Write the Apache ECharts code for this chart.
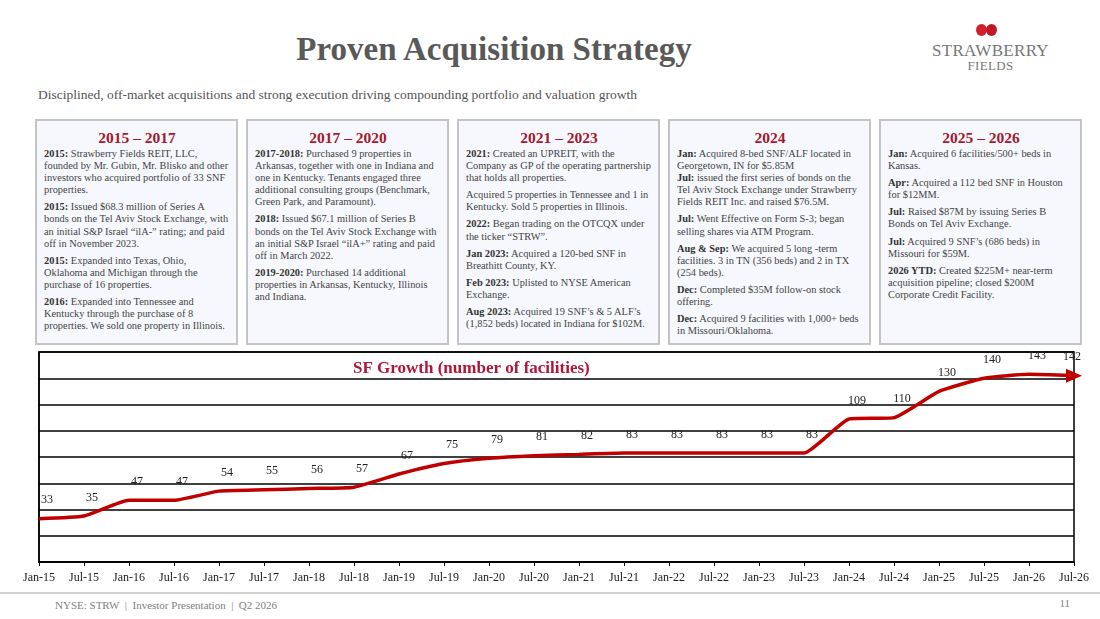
<!DOCTYPE html>
<html><head><meta charset="utf-8">
<script src="https://cdn.jsdelivr.net/npm/echarts@6/dist/echarts.min.js"></script>
<style>
body{margin:0;width:1100px;height:619px;background:#fff;font-family:"Liberation Serif","Times New Roman",serif;position:relative;overflow:hidden}
.title{position:absolute;left:0;width:988px;top:31px;text-align:center;font-size:33px;font-weight:bold;color:#595959}
.sub{position:absolute;left:38px;top:87px;font-size:13.5px;color:#555}
.box{position:absolute;top:119px;height:226px;width:203px;border:2px solid #c4c4c4;background:#f7f8fd;box-sizing:border-box;padding:4px 6px 0 7px;font-size:10.4px;line-height:12.1px;color:#444;overflow:hidden}
.box h3{margin:4px 0 1px;text-align:center;font-size:15.5px;line-height:18px;color:#a3192e;font-weight:bold}
.box p{margin:0 0 5px}
.box b{color:#333}
#chart{position:absolute;left:0;top:349px;width:1100px;height:242px}
.foot{position:absolute;left:55px;top:599px;font-size:11px;color:#7f7f7f}
.pg{position:absolute;right:30px;top:597px;font-size:11px;color:#7f7f7f}
.fline{position:absolute;left:0;width:1100px;top:592px;height:2px;background:#d0d0d0}
.logo{position:absolute;left:928px;top:36px;width:125px;text-align:center;color:#777;font-size:17px;line-height:14px;letter-spacing:0.3px}
</style></head><body>
<div class="title">Proven Acquisition Strategy</div>
<div class="logo"><div style="height:8px;position:relative"><span style="position:absolute;left:48px;top:-12px;width:11px;height:12px;border-radius:50%;background:#d0202e"></span><span style="position:absolute;left:58px;top:-12px;width:11px;height:12px;border-radius:50%;background:#c01825"></span></div>STRAWBERRY<br><span style="font-size:13px">FIELDS</span></div>
<div class="sub">Disciplined, off-market acquisitions and strong execution driving compounding portfolio and valuation growth</div>

<div class="box" style="left:35px"><h3>2015 – 2017</h3>
<p><b>2015:</b> Strawberry Fields REIT, LLC, founded by Mr. Gubin, Mr. Blisko and other investors who acquired portfolio of 33 SNF properties.</p>
<p><b>2015:</b> Issued $68.3 million of Series A bonds on the Tel Aviv Stock Exchange, with an initial S&amp;P Israel “ilA-” rating; and paid off in November 2023.</p>
<p><b>2015:</b> Expanded into Texas, Ohio, Oklahoma and Michigan through the purchase of 16 properties.</p>
<p><b>2016:</b> Expanded into Tennessee and Kentucky through the purchase of  8 properties. We sold one property in Illinois.</p></div>
<div class="box" style="left:246px"><h3>2017 – 2020</h3>
<p><b>2017-2018:</b> Purchased 9 properties in Arkansas, together with one in Indiana and one in Kentucky. Tenants engaged  three additional consulting groups (Benchmark, Green Park, and Paramount).</p>
<p><b>2018:</b> Issued $67.1 million of Series B bonds on the Tel Aviv Stock Exchange with an initial S&amp;P Israel “ilA+” rating and paid off in March 2022.</p>
<p><b>2019-2020:</b>  Purchased 14 additional properties  in Arkansas, Kentucky, Illinois and Indiana.</p></div>
<div class="box" style="left:457px"><h3>2021 – 2023</h3>
<p><b>2021:</b> Created  an UPREIT, with the Company as GP of the operating partnership that holds all properties.</p>
<p>Acquired 5 properties in Tennessee and 1 in Kentucky. Sold 5 properties in Illinois.</p>
<p><b>2022:</b> Began trading on the OTCQX under the ticker “STRW”.</p>
<p><b>Jan 2023:</b> Acquired a 120-bed SNF in Breathitt County, KY.</p>
<p><b>Feb 2023:</b> Uplisted to NYSE American Exchange.</p>
<p><b>Aug 2023:</b> Acquired 19 SNF’s &amp; 5 ALF’s (1,852 beds) located in Indiana for $102M.</p></div>
<div class="box" style="left:668px"><h3>2024</h3>
<p style="margin:0"><b>Jan:</b> Acquired 8-bed SNF/ALF located in Georgetown, IN for $5.85M</p>
<p><b>Jul:</b> issued the first series of bonds on the Tel Aviv Stock Exchange under Strawberry Fields REIT Inc. and raised $76.5M.</p>
<p><b>Jul:</b> Went Effective on Form S-3; began selling shares via ATM Program.</p>
<p><b>Aug &amp; Sep:</b>  We acquired 5 long -term facilities. 3 in TN  (356 beds) and 2 in TX (254 beds).</p>
<p><b>Dec:</b>  Completed $35M follow-on stock offering.</p>
<p><b>Dec:</b> Acquired 9 facilities with 1,000+ beds in Missouri/Oklahoma.</p></div>
<div class="box" style="left:879px"><h3>2025 – 2026</h3>
<p><b>Jan:</b> Acquired 6 facilities/500+ beds in Kansas.</p>
<p><b>Apr:</b> Acquired a 112 bed SNF in Houston for $12MM.</p>
<p><b>Jul:</b> Raised $87M by issuing Series B Bonds on Tel Aviv Exchange.</p>
<p><b>Jul:</b> Acquired 9 SNF’s (686 beds) in Missouri for $59M.</p>
<p><b>2026 YTD:</b> Created $225M+ near-term acquisition pipeline; closed $200M Corporate Credit Facility.</p></div>

<div id="chart"></div>
<div class="fline"></div>
<div class="foot">NYSE: STRW &nbsp;|&nbsp; Investor Presentation &nbsp;|&nbsp; Q2 2026</div>
<div class="pg">11</div>
<script>
const categories=['Jan-15','Jul-15','Jan-16','Jul-16','Jan-17','Jul-17','Jan-18','Jul-18','Jan-19','Jul-19','Jan-20','Jul-20','Jan-21','Jul-21','Jan-22','Jul-22','Jan-23','Jul-23','Jan-24','Jul-24','Jan-25','Jul-25','Jan-26','Jul-26'];
const facilities=[33,35,47,47,54,55,56,57,67,75,79,81,82,83,83,83,83,83,109,110,130,140,143,142];
const data=facilities.map((v,i)=>i===facilities.length-1
  ?{value:v,symbol:'triangle',symbolSize:[14,16],symbolRotate:-90,itemStyle:{color:'#c00000'},label:{position:'top',distance:6,offset:[-2,0]}}
  :{value:v});
const ch=echarts.init(document.getElementById('chart'));
ch.setOption({
  animation:false,
  title:{text:'SF Growth (number of facilities)',left:348,top:6,textStyle:{fontFamily:'Liberation Serif',fontSize:17,fontWeight:'bold',color:'#b0163a'}},
  grid:{left:39,right:26,top:3,bottom:29,containLabel:false,outerBoundsMode:'none',show:true,borderColor:'#000',borderWidth:1.5},
  xAxis:{type:'category',data:categories,boundaryGap:false,
    axisLine:{lineStyle:{color:'#000',width:1.5}},axisTick:{show:true,lineStyle:{color:'#000'},length:4},
    axisLabel:{interval:0,color:'#222',fontFamily:'Liberation Serif',fontSize:12,margin:10}},
  yAxis:{type:'value',min:0,max:160,interval:20,axisLabel:{show:false},axisLine:{show:true,lineStyle:{color:'#000',width:1.5}},
    splitLine:{lineStyle:{color:'#000',width:1.5}}},
  series:[{type:'line',data:data,smooth:0.15,symbol:'circle',symbolSize:1,showAllSymbol:true,
    itemStyle:{color:'#c00000'},
    lineStyle:{color:'#c00000',width:3.5},
    label:{show:true,position:'top',distance:12,offset:[8,0],color:'#222',fontFamily:'Liberation Serif',fontSize:12}}]
});
</script>
</body></html>
